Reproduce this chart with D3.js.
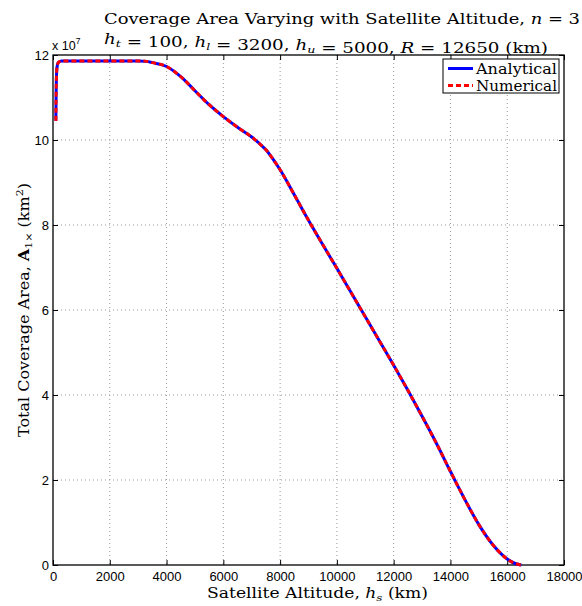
<!DOCTYPE html>
<html><head><meta charset="utf-8">
<script src="https://cdn.jsdelivr.net/npm/d3@7"></script>
<style>body{margin:0;background:#fff}svg{display:block}</style>
</head><body>
<script>
// Data (coverage area in units of 1e7 km^2)
const altitude = [100,110,125,150,200,300,1000,2000,3000,3300,3500,4000,4500,5000,5500,6000,6500,7000,7250,7500,7750,8000,8500,9000,9500,10000,10500,11000,11500,12000,12500,13000,13500,14000,14500,15000,15500,16000,16300,16500];
const analytical = [10.45,11.1,11.55,11.75,11.83,11.86,11.86,11.86,11.86,11.85,11.82,11.73,11.49,11.16,10.83,10.55,10.30,10.07,9.93,9.77,9.55,9.30,8.71,8.11,7.54,6.98,6.41,5.84,5.27,4.70,4.11,3.50,2.87,2.20,1.55,0.95,0.47,0.14,0.03,0.0];
const numerical = [10.45,11.1,11.55,11.75,11.83,11.86,11.86,11.86,11.86,11.85,11.82,11.73,11.49,11.16,10.83,10.55,10.30,10.07,9.93,9.77,9.55,9.30,8.71,8.11,7.54,6.98,6.41,5.84,5.27,4.70,4.11,3.50,2.87,2.20,1.55,0.95,0.47,0.14,0.03,0.0];
const xTicks = [0,2000,4000,6000,8000,10000,12000,14000,16000,18000];
const yTicks = [0,2,4,6,8,10,12];
const seriesNames = ["Analytical","Numerical"];

const W = 582, H = 606;
const L = 53, R = 564, T = 55, B = 565;
const svg = d3.select("body").append("svg").attr("width",W).attr("height",H);

const x = d3.scaleLinear().domain([0,18000]).range([L,R]);
const y = d3.scaleLinear().domain([0,12]).range([B,T]);

// grid
const g = svg.append("g");
g.selectAll(".gx").data(xTicks.slice(1,-1)).enter().append("line")
  .attr("x1",d=>x(d)).attr("x2",d=>x(d)).attr("y1",T).attr("y2",B)
  .attr("stroke","#999").attr("stroke-width",1).attr("stroke-dasharray","1,3");
g.selectAll(".gy").data(yTicks.slice(1,-1)).enter().append("line")
  .attr("y1",d=>y(d)).attr("y2",d=>y(d)).attr("x1",L).attr("x2",R)
  .attr("stroke","#999").attr("stroke-width",1).attr("stroke-dasharray","1,3");

// axes
const tickFont = "Liberation Sans, Arial, sans-serif";
const ax = d3.axisBottom(x).tickValues(xTicks).tickFormat(d3.format("d")).tickSizeInner(-5).tickSizeOuter(0).tickPadding(7);
svg.append("g").attr("transform",`translate(0,${B})`).call(ax);
const ay = d3.axisLeft(y).tickValues(yTicks).tickFormat(d3.format("d")).tickSizeInner(-5).tickSizeOuter(0).tickPadding(4);
svg.append("g").attr("transform",`translate(${L},0)`).call(ay);
const axTop = d3.axisTop(x).tickValues(xTicks).tickFormat("").tickSizeInner(-5).tickSizeOuter(0);
svg.append("g").attr("transform",`translate(0,${T})`).call(axTop);
const ayR = d3.axisRight(y).tickValues(yTicks).tickFormat("").tickSizeInner(-5).tickSizeOuter(0);
svg.append("g").attr("transform",`translate(${R},0)`).call(ayR);
svg.selectAll(".domain").remove();
svg.selectAll(".tick line").attr("stroke","#000");
svg.selectAll(".tick text").attr("font-family",tickFont).attr("font-size",13).attr("fill","#000");

// frame
svg.append("rect").attr("x",L).attr("y",T).attr("width",R-L).attr("height",B-T)
  .attr("fill","none").attr("stroke","#000").attr("stroke-width",1.3);

// multiplier
const mult = svg.append("text").attr("x",52).attr("y",50).attr("font-family",tickFont).attr("font-size",12.5);
mult.append("tspan").text("x 10");
mult.append("tspan").attr("font-size",8.5).attr("dy",-6).text("7");

// lines
const lineGen = (vals) => d3.line().x((d,i)=>x(altitude[i])).y(d=>y(d)).curve(d3.curveMonotoneX)(vals);
svg.append("path").attr("d",lineGen(analytical)).attr("fill","none").attr("stroke","#0000ff").attr("stroke-width",3);
svg.append("path").attr("d",lineGen(numerical)).attr("fill","none").attr("stroke","#ff0000").attr("stroke-width",3).attr("stroke-dasharray","5,3");

const serif = "DejaVu Serif, Liberation Serif, serif";
const fit = (sel, w) => sel.attr("textLength", w).attr("lengthAdjust","spacingAndGlyphs");

// legend
const lg = svg.append("g");
lg.append("rect").attr("x",443).attr("y",59).attr("width",116).attr("height",34).attr("fill","#fff").attr("stroke","#000").attr("stroke-width",1);
const lgY = [68.5, 85.5];
const lgStyles = [{c:"#0000ff",d:null},{c:"#ff0000",d:"5,3"}];
seriesNames.forEach((n,i)=>{
  const ln = lg.append("line").attr("x1",448).attr("x2",473).attr("y1",lgY[i]).attr("y2",lgY[i])
    .attr("stroke",lgStyles[i].c).attr("stroke-width",3);
  if (lgStyles[i].d) ln.attr("stroke-dasharray",lgStyles[i].d);
  fit(lg.append("text").attr("x",476).attr("y",lgY[i]+5).attr("font-family",serif).attr("font-size",14.5).text(n), 81);
});

// titles
const t1 = svg.append("text").attr("x",104).attr("y",24).attr("font-family",serif).attr("font-size",14.5);
t1.append("tspan").text("Coverage Area Varying with Satellite Altitude, ");
t1.append("tspan").attr("font-style","italic").text("n");
t1.append("tspan").text(" = 3");
fit(t1, 476);

const t2 = svg.append("text").attr("x",104).attr("y",44).attr("font-family",serif).attr("font-size",14.5);
function hsub(el, s){ el.append("tspan").attr("font-style","italic").text("h");
  el.append("tspan").attr("font-style","italic").attr("font-size",10).attr("dy",3).text(s);
  el.append("tspan").attr("dy",-3).text(""); }
hsub(t2,"t"); t2.append("tspan").text(" = 100, ");
hsub(t2,"l"); t2.append("tspan").text(" = 3200, ");
hsub(t2,"u"); t2.append("tspan").text(" = 5000, ");
t2.append("tspan").attr("font-style","italic").text("R");
t2.append("tspan").text(" = 12650 (km)");
fit(t2, 444);

// x label
const xl = svg.append("text").attr("x",207).attr("y",598).attr("font-family",serif).attr("font-size",14.5);
xl.append("tspan").text("Satellite Altitude, ");
xl.append("tspan").attr("font-style","italic").text("h");
xl.append("tspan").attr("font-style","italic").attr("font-size",10).attr("dy",3).text("s");
xl.append("tspan").attr("dy",-3).text(" (km)");
fit(xl, 221);

// y label
const yl = svg.append("text").attr("transform","translate(29,437) rotate(-90)").attr("font-family",serif).attr("font-size",14.5);
yl.append("tspan").text("Total Coverage Area, ");
yl.append("tspan").attr("font-weight","bold").text("A");
yl.append("tspan").attr("font-size",10).attr("dy",3).text("1×");
yl.append("tspan").attr("dy",-3).text(" (km");
yl.append("tspan").attr("font-size",10).attr("dy",-6).text("2");
yl.append("tspan").attr("dy",6).text(")");
fit(yl, 254);
</script>
</body></html>
